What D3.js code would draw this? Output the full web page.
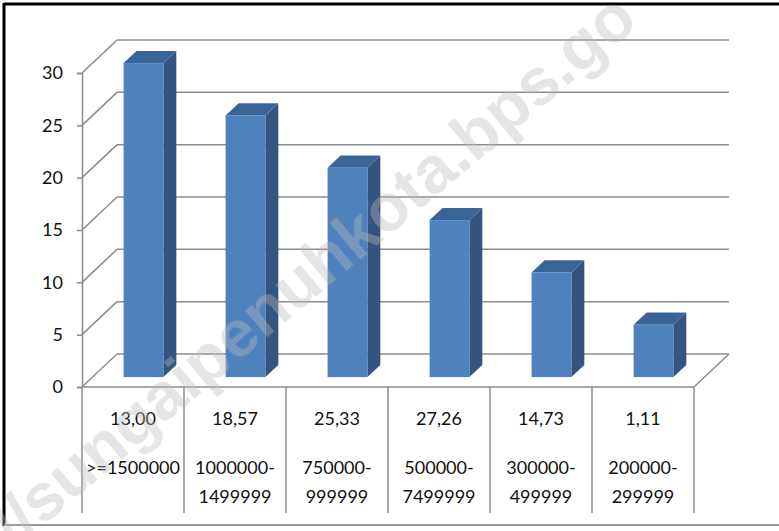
<!DOCTYPE html>
<html>
<head>
<meta charset="utf-8">
<script src="https://cdn.jsdelivr.net/npm/d3@7"></script>
<style>
  body { margin: 0; background: #fff; }
  svg { display: block; font-family: Lato, "Open Sans", sans-serif; }
</style>
</head>
<body>
<svg id="chart" width="779" height="531"></svg>
<script>
// bar data
const categories = [">=1500000", "1000000-|1499999", "750000-|999999", "500000-|7499999", "300000-|499999", "200000-|299999"];
const values = [30, 25, 20, 15, 10, 5];
// numbers shown in the data table row
const tableValues = ["13,00", "18,57", "25,33", "27,26", "14,73", "1,11"];
const yTicks = [0, 5, 10, 15, 20, 25, 30];

const svg = d3.select("#chart");

// plot area (front plane)
const x0 = 82, x1 = 694, yBottom = 387, yTop = 73;
// 3d depth of the walls
const depthX = 35, depthY = -33;

const xScale = d3.scaleBand().domain(categories).range([x0, x1]);
const yScale = d3.scaleLinear().domain([0, 30]).range([yBottom, yTop]);

const gridColor = "#8c8c8c";

// outer frame
svg.append("line").attr("x1", 4).attr("x2", 779).attr("y1", 4).attr("y2", 4)
  .attr("stroke", "#000").attr("stroke-width", 3);
svg.append("line").attr("x1", 4).attr("x2", 4).attr("y1", 3).attr("y2", 526)
  .attr("stroke", "#000").attr("stroke-width", 3);
svg.append("line").attr("x1", 4).attr("x2", 779).attr("y1", 525).attr("y2", 525)
  .attr("stroke", "#999").attr("stroke-width", 2);

// gridlines on the back and side walls
const grid = svg.append("g");
yTicks.forEach(function(t) {
  let y = yScale(t);
  grid.append("line")
    .attr("x1", x0).attr("y1", y)
    .attr("x2", x0 + depthX).attr("y2", y + depthY)
    .attr("stroke", gridColor).attr("stroke-width", 1.5);
  grid.append("line")
    .attr("x1", x0 + depthX).attr("y1", y + depthY)
    .attr("x2", x1 + depthX).attr("y2", y + depthY)
    .attr("stroke", gridColor).attr("stroke-width", 1.5);
});

// floor: front edge and right edge
grid.append("line")
  .attr("x1", x0).attr("y1", yBottom).attr("x2", x1).attr("y2", yBottom)
  .attr("stroke", gridColor).attr("stroke-width", 1.5);
grid.append("line")
  .attr("x1", x1).attr("y1", yBottom)
  .attr("x2", x1 + depthX).attr("y2", yBottom + depthY)
  .attr("stroke", gridColor).attr("stroke-width", 1.5);

// y axis
svg.append("g")
  .attr("transform", "translate(" + x0 + ",0)")
  .call(d3.axisLeft(yScale).tickValues(yTicks).tickSize(5).tickPadding(14))
  .call(function(g) {
    g.select(".domain").attr("stroke", gridColor).attr("stroke-width", 1.5);
    g.selectAll(".tick line").attr("stroke", gridColor).attr("stroke-width", 1.5);
    g.selectAll("text").style("font-size", "18px").style("fill", "#111")
      .style("font-family", "Lato, sans-serif");
  });

// 3d bars: front face sits 30% into the depth, back face at 67%
const fOff = 0.3, bOff = 0.67;
const barW = xScale.bandwidth() * 0.39;
const bars = svg.append("g");
categories.forEach(function(c, i) {
  let cx = xScale(c) + xScale.bandwidth() / 2 + depthX * fOff;
  let dy0 = depthY * fOff;
  let left = cx - barW / 2, right = cx + barW / 2;
  let top = yScale(values[i]) + dy0, bottom = yScale(0) + dy0;
  let ddx = depthX * (bOff - fOff), ddy = depthY * (bOff - fOff);

  // side face
  bars.append("path")
    .attr("d", `M${right},${top}L${right + ddx},${top + ddy}L${right + ddx},${bottom + ddy}L${right},${bottom}Z`)
    .attr("fill", "#34557f");
  // top face
  bars.append("path")
    .attr("d", `M${left},${top}L${left + ddx},${top + ddy}L${right + ddx},${top + ddy}L${right},${top}Z`)
    .attr("fill", "#3b6496");
  // front face
  bars.append("rect")
    .attr("x", left).attr("y", top)
    .attr("width", barW).attr("height", bottom - top)
    .attr("fill", "#4f81bd");
});

// data table under the chart
const table = svg.append("g");
const tableBottom = 513;
categories.concat([null]).forEach(function(c, i) {
  let x = i < categories.length ? xScale(c) : x1;
  table.append("line")
    .attr("x1", x).attr("x2", x).attr("y1", yBottom).attr("y2", tableBottom)
    .attr("stroke", gridColor).attr("stroke-width", 1.5);
});

categories.forEach(function(c, i) {
  let cx = xScale(c) + xScale.bandwidth() / 2;
  table.append("text")
    .attr("x", cx).attr("y", 425)
    .attr("text-anchor", "middle")
    .style("font-size", "18px").style("fill", "#111")
    .text(tableValues[i]);
  let lines = c.split("|");
  lines.forEach(function(l, j) {
    table.append("text")
      .attr("x", cx).attr("y", 474 + j * 29)
      .attr("text-anchor", "middle")
      .style("font-size", "18px").style("fill", "#111")
      .text(l);
  });
});

// semi-transparent watermark drawn over the chart
svg.append("text")
  .attr("x", 14)
  .attr("y", 550)
  .attr("transform", "rotate(-40, 14, 550)")
  .style("font-family", "'Liberation Sans', Arial, sans-serif")
  .style("font-weight", "bold")
  .style("font-size", "66px")
  .style("fill", "#bbbbbb")
  .style("fill-opacity", 0.38)
  .text("//sungaipenuhkota.bps.go");
</script>
</body>
</html>
